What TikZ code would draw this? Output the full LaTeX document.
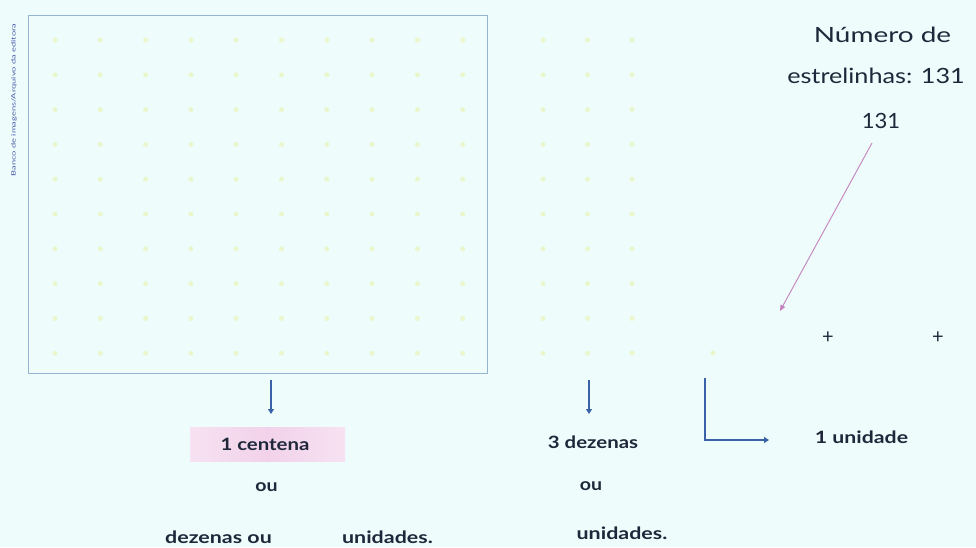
\documentclass[tikz,border=0pt]{standalone}
\usepackage{fontspec}
\usepackage{graphicx}
\setmainfont{Lato}
\usetikzlibrary{arrows.meta}

\definecolor{paper}{RGB}{238,252,252}
\definecolor{frameblue}{RGB}{150,180,208}
\definecolor{arrowblue}{RGB}{58,98,166}
\definecolor{inkdark}{RGB}{30,40,58}
\definecolor{stardot}{RGB}{234,247,204}
\definecolor{pinkbox}{RGB}{242,210,234}
\definecolor{pinkedge}{RGB}{246,226,242}
\definecolor{pinkarrow}{RGB}{196,130,190}
\definecolor{creditblue}{RGB}{70,90,170}

% horizontally widened text
\newcommand\widetext[2]{\scalebox{#1}[1]{#2}}

\tikzset{
  headtext/.style={font=\fontsize{21}{24}\selectfont, text=inkdark, inner sep=0pt, anchor=base},
  bodytext/.style={font=\fontsize{17}{20}\selectfont\bfseries, text=inkdark, inner sep=0pt, anchor=base},
  dot/.style={fill=stardot, draw=none},
  downarrow/.style={draw=arrowblue, line width=1.1pt, -{Triangle[length=5pt,width=6pt]}},
  plussign/.style={font=\fontsize{20}{22}\selectfont, text=inkdark, inner sep=0pt}
}

\begin{document}
\begin{tikzpicture}[x=1pt,y=-1pt]
  % page and background
  \fill[paper] (0,0) rectangle (976,547);
  \useasboundingbox (0,0) rectangle (976,547);

  % frame holding the hundred
  \node[draw=frameblue, line width=1pt, minimum width=459pt, minimum height=358pt,
        inner sep=0pt] (frame) at (257.5,194.5) {};

  % 10 x 10 stars inside the frame
  \foreach \i in {0,...,9}{
    \foreach \j in {0,...,9}{
      \fill[dot] (55+45.3*\i, 40+34.8*\j) circle (2.5pt);
    }
  }
  % 3 columns of ten stars
  \foreach \i in {0,1,2}{
    \foreach \j in {0,...,9}{
      \fill[dot] (543+44.5*\i, 40+34.8*\j) circle (2.5pt);
    }
  }
  % single star
  \fill[dot] (713,353) circle (2.5pt);

  % credit line
  \node[rotate=90, font=\fontsize{6}{7}\selectfont, text=creditblue, inner sep=0pt]
        (credit) at (14,100) {\widetext{1.55}{Banco de imagens/Arquivo da editora}};

  % header
  \node[headtext] (title1) at (882.5,42) {\widetext{1.33}{Número de}};
  \node[headtext] (title2) at (876,83) {\widetext{1.2}{estrelinhas: 131}};
  \node[headtext] (num) at (881,128) {\widetext{1.05}{131}};

  % pink pointer from the number
  \coordinate (numfoot) at (872,143);
  \coordinate (pinktip) at (780,311);
  \draw[pinkarrow, line width=0.9pt, -{Triangle[length=6pt,width=5pt]}] (numfoot) -- (pinktip);

  % plus signs
  \node[plussign] (plus1) at (828,338) {+};
  \node[plussign] (plus2) at (938,338) {+};

  % arrows below the stars
  \coordinate (hundtop) at (271,380);
  \coordinate (hundbot) at (271,414);
  \draw[downarrow] (hundtop) -- (hundbot);
  \coordinate (tenstop) at (589,380);
  \coordinate (tensbot) at (589,414);
  \draw[downarrow] (tenstop) -- (tensbot);
  \coordinate (unittop) at (705,378);
  \coordinate (unitcorner) at (705,440);
  \coordinate (unitend) at (769,440);
  \draw[downarrow] (unittop) -- (unitcorner) -- (unitend);

  % hundreds column
  \node[left color=pinkedge, right color=pinkedge, middle color=pinkbox,
        minimum width=155pt, minimum height=34pt, inner sep=0pt]
        (centbox) at (267.5,444) {};
  \node[bodytext] (cent) at (265,450) {\widetext{1.2}{1 centena}};
  \node[bodytext] (ou1) at (266.5,491) {\widetext{1.15}{ou}};
  \node[bodytext] (dez) at (218.5,543) {\widetext{1.26}{dezenas ou}};
  \node[bodytext] (uni1) at (387.5,543) {\widetext{1.26}{unidades.}};

  % tens column
  \node[bodytext] (tens) at (593,448) {\widetext{1.2}{3 dezenas}};
  \node[bodytext] (ou2) at (591,490) {\widetext{1.15}{ou}};
  \node[bodytext] (uni2) at (622,539) {\widetext{1.26}{unidades.}};

  % units
  \node[bodytext] (unit) at (861.5,443) {\widetext{1.25}{1 unidade}};
\end{tikzpicture}
\end{document}
